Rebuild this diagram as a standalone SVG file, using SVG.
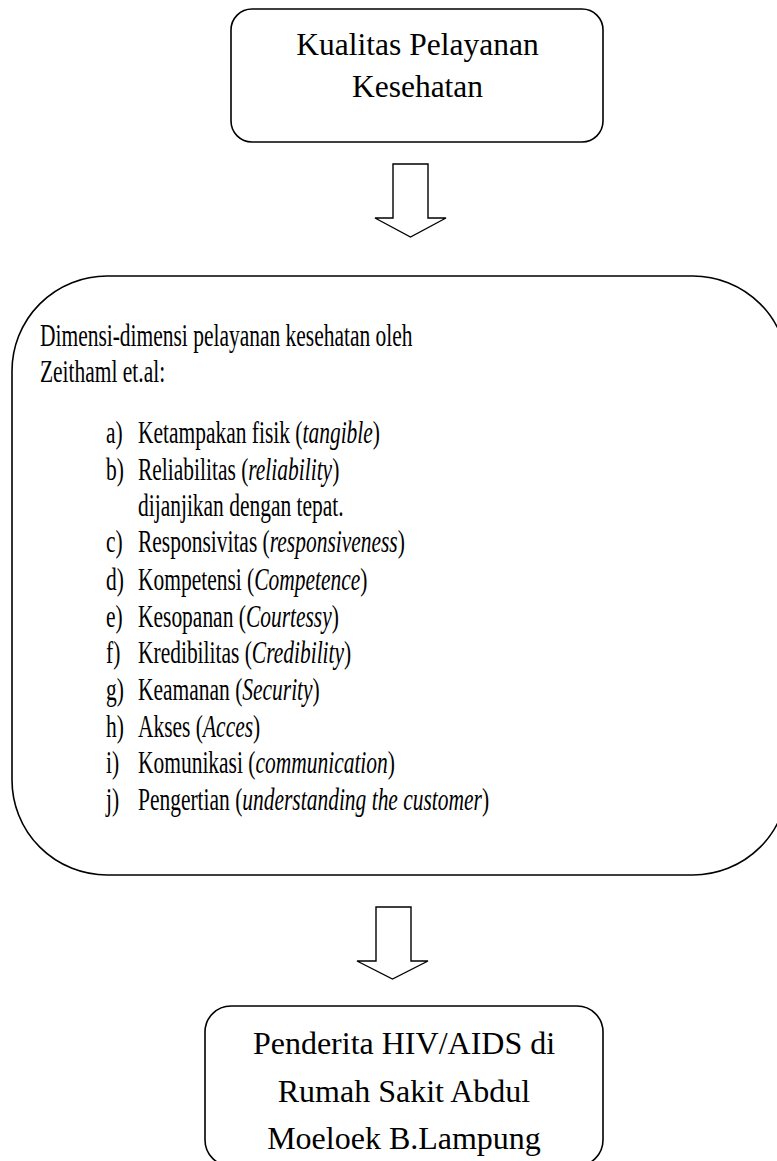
<svg xmlns="http://www.w3.org/2000/svg" width="777" height="1161" viewBox="0 0 777 1161">
<style>
.box{fill:#fff;stroke:#000;stroke-width:1.6}
.arr{fill:#fff;stroke:#000;stroke-width:1.4;stroke-linejoin:miter}
.t{font-family:"Liberation Serif","Times New Roman",serif;fill:#000}
.i{font-style:italic}
</style>
<rect width="777" height="1161" fill="#fff"/>
<g id="node-kualitas">
<rect class="box" x="231" y="9" width="372" height="133" rx="21" ry="21"/>
<text class="t" font-size="31.5" text-anchor="middle"><tspan x="417.5" y="55">Kualitas Pelayanan</tspan><tspan x="417.5" y="97">Kesehatan</tspan></text>
</g>
<g id="connectors">
<polygon class="arr" points="393,164 428,164 428,218 446,218 410.5,237 375,218 393,218"/>
<polygon class="arr" points="376,907 411,907 411,961 428,961 392.5,979 357,961 376,961"/>
</g>
<g id="node-dimensi">
<rect class="box" x="12" y="276" width="776" height="599" rx="95" ry="95"/>
<g transform="scale(0.671,1)">
<text class="t" font-size="32">
<tspan x="59.6" y="346">Dimensi-dimensi pelayanan kesehatan oleh</tspan>
<tspan x="59.6" y="382">Zeithaml et.al:</tspan>
</text>
<text class="t" font-size="32">
<tspan x="158" y="443">a)</tspan>
<tspan x="158" y="480">b)</tspan>
<tspan x="158" y="552">c)</tspan>
<tspan x="158" y="590">d)</tspan>
<tspan x="158" y="627">e)</tspan>
<tspan x="158" y="663">f)</tspan>
<tspan x="158" y="700">g)</tspan>
<tspan x="158" y="737">h)</tspan>
<tspan x="158" y="773">i)</tspan>
<tspan x="158" y="810">j)</tspan>
</text>
<text class="t" font-size="32" x="205.7" y="443">Ketampakan fisik (<tspan class="i">tangible</tspan>)</text>
<text class="t" font-size="32" x="205.7" y="480">Reliabilitas (<tspan class="i">reliability</tspan>)</text>
<text class="t" font-size="32" x="205.7" y="516">dijanjikan dengan tepat.</text>
<text class="t" font-size="32" x="205.7" y="552">Responsivitas (<tspan class="i">responsiveness</tspan>)</text>
<text class="t" font-size="32" x="205.7" y="590">Kompetensi (<tspan class="i">Competence</tspan>)</text>
<text class="t" font-size="32" x="205.7" y="627">Kesopanan (<tspan class="i">Courtessy</tspan>)</text>
<text class="t" font-size="32" x="205.7" y="663">Kredibilitas (<tspan class="i">Credibility</tspan>)</text>
<text class="t" font-size="32" x="205.7" y="700">Keamanan (<tspan class="i">Security</tspan>)</text>
<text class="t" font-size="32" x="205.7" y="737">Akses (<tspan class="i">Acces</tspan>)</text>
<text class="t" font-size="32" x="205.7" y="773">Komunikasi (<tspan class="i">communication</tspan>)</text>
<text class="t" font-size="32" x="205.7" y="810">Pengertian (<tspan class="i">understanding the customer</tspan>)</text>
</g>
</g>
<g id="node-penderita">
<rect class="box" x="205" y="1006" width="398" height="160" rx="26" ry="26"/>
<text class="t" font-size="32" text-anchor="middle"><tspan x="404" y="1054">Penderita HIV/AIDS di</tspan><tspan x="404" y="1102">Rumah Sakit Abdul</tspan><tspan x="404" y="1149">Moeloek B.Lampung</tspan></text>
</g>
</svg>
